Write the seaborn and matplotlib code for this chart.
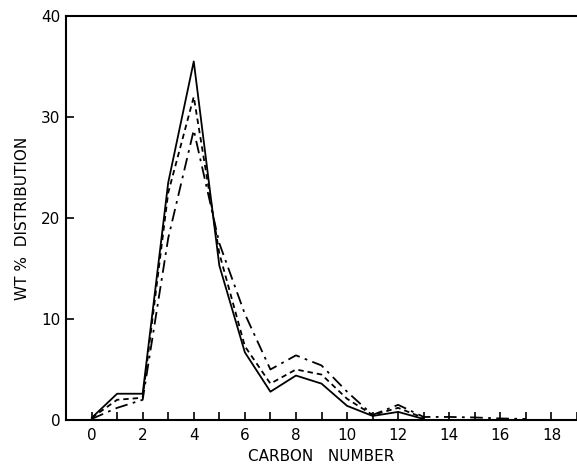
import matplotlib
matplotlib.use("Agg")
import matplotlib.pyplot as plt
import seaborn as sns
import pandas as pd
from matplotlib.ticker import MultipleLocator

carbon_solid = list(range(0, 14))
wt_solid = [0.2, 2.6, 2.6, 23.5, 35.5, 15.3, 6.7, 2.8, 4.4, 3.6, 1.4, 0.4, 0.8, 0.1]

carbon_dashed = list(range(0, 14))
wt_dashed = [0.2, 2.0, 2.2, 22.5, 32.0, 16.5, 7.3, 3.6, 5.0, 4.5, 2.1, 0.5, 1.2, 0.2]

carbon_dashdot = list(range(0, 18))
wt_dashdot = [0.1, 1.2, 2.0, 18.0, 28.7, 17.5, 10.5, 5.0, 6.4, 5.4, 2.8, 0.5, 1.5, 0.3, 0.3, 0.25, 0.15, 0.1]

x_ticks = [0, 2, 4, 6, 8, 10, 12, 14, 16, 18]
y_ticks = [0, 10, 20, 30, 40]

sns.set_theme(style="white")
plt.rcParams['font.family'] = ['DejaVu Sans']

df = pd.concat([
    pd.DataFrame({"carbon": carbon_solid, "wt": wt_solid, "series": "A"}),
    pd.DataFrame({"carbon": carbon_dashed, "wt": wt_dashed, "series": "B"}),
    pd.DataFrame({"carbon": carbon_dashdot, "wt": wt_dashdot, "series": "C"}),
], ignore_index=True)

fig = plt.figure(figsize=(5.77, 4.68), dpi=100)
ax = fig.add_axes([0.1144, 0.1026, 0.8856, 0.8632])

sns.lineplot(data=df, x="carbon", y="wt", style="series", color="black",
             dashes={"A": "", "B": (3, 2.2), "C": (7, 3, 1.5, 3)},
             linewidth=1.3, legend=False, ax=ax, estimator=None, sort=False)

ax.set_xlim(-1.0, 19.0)
ax.set_ylim(0, 40)
ax.set_xticks(x_ticks)
ax.xaxis.set_minor_locator(MultipleLocator(1))
ax.set_yticks(y_ticks)
ax.tick_params(axis="both", which="both", direction="in", length=6, width=1.2,
               colors="black", labelsize=11, bottom=True, left=True)
ax.tick_params(axis="x", pad=6)
ax.tick_params(axis="y", pad=4)

for side in ["left", "bottom", "top"]:
    ax.spines[side].set_visible(True)
    ax.spines[side].set_color("black")
    ax.spines[side].set_linewidth(1.5)
ax.spines["right"].set_visible(False)

ax.set_xlabel("CARBON   NUMBER", fontsize=11, labelpad=4, color="black")
ax.set_ylabel("WT %  DISTRIBUTION", fontsize=11, labelpad=8, color="black")

fig.savefig("out.png", dpi=100, facecolor="white")
